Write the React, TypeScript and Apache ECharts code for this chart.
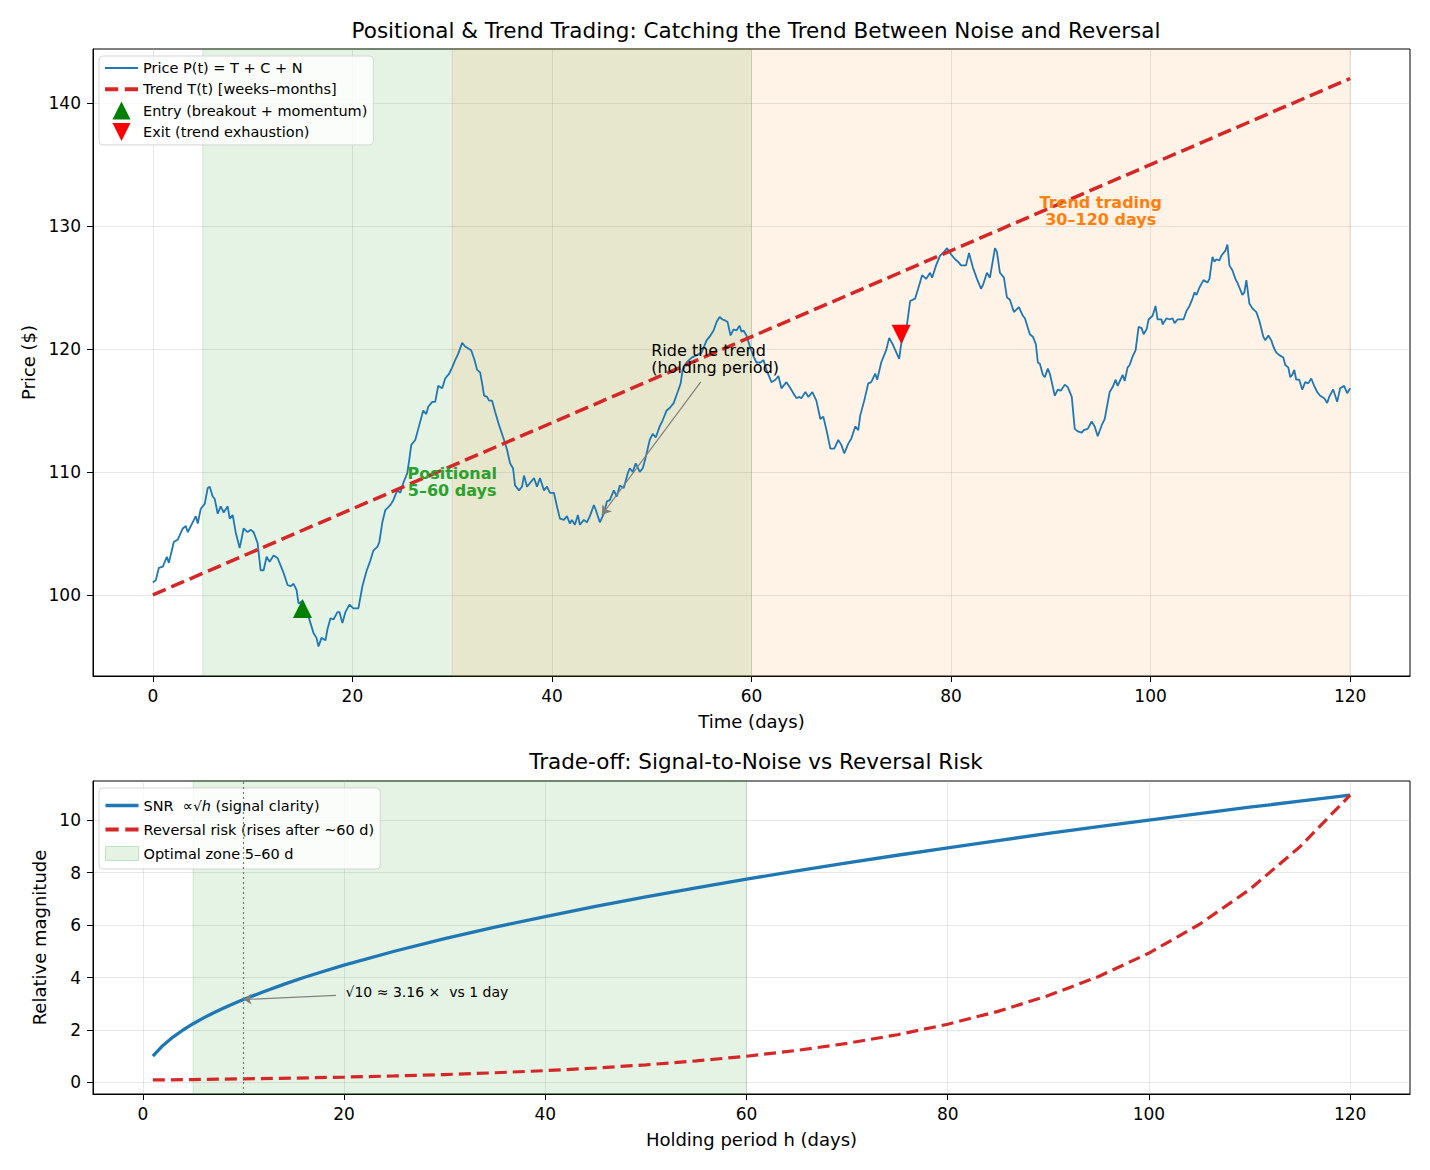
import React, { useEffect, useRef } from "react";
import * as echarts from "echarts";

// ---------- Top panel data ----------
const priceDays = [
  0.0, 0.3, 0.6, 1.0, 1.4, 1.6, 2.1, 2.5, 3.0, 3.3, 3.5, 4.3, 4.5, 4.8, 5.2, 5.5, 5.7, 6.0, 6.2, 6.5,
  6.8, 7.1, 7.5, 7.7, 8.0, 8.3, 8.7, 9.1, 9.5, 9.8, 10.1, 10.5, 10.8, 11.1, 11.4, 11.7, 12.1, 12.5, 12.8, 13.1,
  13.5, 13.8, 14.1, 14.4, 14.6, 15.0, 15.5, 15.8, 16.1, 16.4, 16.6, 16.9, 17.3, 17.5, 17.8, 18.1, 18.5, 18.7, 19.0, 19.3,
  19.7, 20.1, 20.6, 21.0, 21.4, 21.8, 22.1, 22.5, 22.7, 23.0, 23.3, 23.8, 24.1, 24.5, 24.8, 25.1, 25.5, 25.7, 25.9, 26.3,
  26.6, 27.1, 27.4, 27.6, 28.0, 28.3, 28.6, 29.0, 29.3, 29.7, 30.0, 30.3, 30.6, 31.0, 31.3, 31.7, 31.9, 32.2, 32.5, 32.8,
  33.0, 33.2, 33.5, 33.7, 34.0, 34.3, 34.7, 35.2, 35.5, 35.8, 36.1, 36.3, 36.7, 37.0, 37.2, 37.5, 37.8, 38.2, 38.5, 38.8,
  39.2, 39.5, 39.8, 40.2, 40.5, 40.8, 41.2, 41.5, 41.8, 42.0, 42.3, 42.6, 42.8, 43.2, 43.5, 43.8, 44.2, 44.4, 44.8, 45.2,
  45.5, 45.8, 46.2, 46.5, 46.8, 47.2, 47.6, 47.8, 48.1, 48.4, 48.8, 49.1, 49.4, 49.8, 50.1, 50.4, 50.8, 51.1, 51.5, 51.8,
  52.2, 52.6, 52.9, 53.1, 53.5, 54.0, 54.5, 55.0, 55.5, 55.8, 56.2, 56.5, 56.8, 57.1, 57.4, 57.6, 57.9, 58.2, 58.5, 58.8,
  59.0, 59.2, 59.5, 59.8, 60.2, 60.5, 60.9, 61.2, 61.5, 62.0, 62.4, 62.7, 63.0, 63.5, 63.9, 64.2, 64.5, 64.8, 65.0, 65.4,
  65.7, 66.1, 66.5, 66.9, 67.2, 67.6, 67.9, 68.3, 68.7, 69.0, 69.3, 69.7, 70.0, 70.4, 70.7, 70.9, 71.3, 71.7, 72.0, 72.4,
  72.6, 73.0, 73.5, 73.8, 74.2, 74.8, 75.0, 75.5, 75.9, 76.4, 76.7, 77.1, 77.5, 77.9, 78.1, 78.5, 78.9, 79.2, 79.6, 80.0,
  80.4, 80.7, 81.0, 81.5, 81.8, 82.2, 82.6, 83.0, 83.2, 83.6, 83.9, 84.4, 84.6, 84.9, 85.3, 85.6, 85.9, 86.3, 86.8, 87.2,
  87.4, 87.9, 88.2, 88.5, 88.7, 88.9, 89.2, 89.4, 89.7, 89.9, 90.4, 90.7, 91.0, 91.4, 91.7, 92.1, 92.4, 92.7, 93.1, 93.3,
  93.7, 94.1, 94.4, 94.7, 95.1, 95.4, 95.9, 96.2, 96.5, 96.7, 97.2, 97.4, 97.7, 97.9, 98.2, 98.5, 98.8, 99.1, 99.3, 99.6,
  99.8, 100.2, 100.5, 100.7, 101.1, 101.2, 101.6, 101.9, 102.2, 102.4, 102.7, 103.1, 103.3, 103.6, 103.9, 104.2, 104.4, 104.6, 104.9, 105.3,
  105.7, 105.9, 106.2, 106.4, 106.6, 106.9, 107.1, 107.5, 107.7, 107.9, 108.2, 108.5, 108.7, 108.9, 109.2, 109.4, 109.6, 109.9, 110.2, 110.6,
  110.9, 111.3, 111.5, 111.8, 112.1, 112.3, 112.6, 112.9, 113.3, 113.5, 113.8, 114.0, 114.2, 114.4, 114.6, 114.9, 115.2, 115.5, 115.8, 116.1,
  116.4, 116.7, 117.0, 117.4, 117.7, 117.9, 118.3, 118.7, 119.0, 119.4, 119.7, 120.0,
];
const priceValues = [
  101.0, 101.2, 102.2, 102.3, 103.1, 102.6, 104.3, 104.5, 105.4, 105.6, 105.1, 106.4, 105.8, 107.0, 107.4, 108.7, 108.8, 108.0, 107.8, 106.6,
  107.2, 106.7, 107.2, 106.2, 106.5, 105.1, 103.8, 105.4, 105.1, 105.3, 105.1, 104.2, 102.0, 102.0, 103.1, 102.7, 103.2, 103.0, 102.4, 101.8,
  100.8, 100.7, 100.9, 100.4, 99.3, 99.5, 98.5, 97.7, 96.9, 96.5, 95.8, 96.5, 96.3, 97.2, 98.1, 98.0, 98.6, 98.6, 97.7, 98.6,
  99.2, 98.9, 98.9, 100.7, 101.9, 102.8, 103.6, 103.9, 104.3, 105.9, 106.9, 107.3, 107.7, 108.5, 108.3, 109.1, 109.9, 111.0, 112.2, 112.6,
  113.5, 115.0, 114.7, 115.3, 115.7, 115.7, 117.0, 116.8, 117.6, 118.0, 118.5, 119.1, 119.6, 120.5, 120.2, 120.0, 119.9, 119.2, 118.3, 118.1,
  117.2, 116.2, 116.1, 115.8, 115.8, 114.9, 113.8, 112.6, 111.8, 110.7, 110.3, 108.9, 108.5, 108.8, 109.7, 108.8, 109.1, 109.5, 108.8, 109.5,
  108.5, 108.8, 108.3, 108.3, 107.2, 106.2, 106.1, 106.4, 105.8, 106.1, 105.7, 106.5, 105.7, 106.1, 105.9, 106.4, 107.3, 106.9, 105.9, 106.6,
  107.6, 107.7, 108.5, 108.0, 108.9, 108.7, 109.9, 110.3, 110.0, 110.7, 110.0, 110.3, 111.2, 112.6, 113.1, 112.8, 113.7, 114.2, 115.0, 115.2,
  115.6, 116.5, 117.2, 118.3, 118.9, 119.3, 119.5, 119.7, 120.7, 121.0, 121.5, 122.2, 122.6, 122.4, 122.3, 122.2, 121.1, 121.6, 121.5, 121.9,
  121.4, 121.5, 121.1, 120.3, 119.4, 118.9, 118.9, 119.1, 118.3, 117.3, 117.5, 117.8, 116.8, 117.3, 116.8, 116.4, 116.0, 116.1, 116.0, 116.5,
  116.1, 116.5, 115.8, 114.3, 114.5, 113.1, 111.9, 111.9, 112.6, 112.2, 111.5, 112.3, 112.7, 113.7, 113.4, 114.6, 115.8, 117.2, 117.3, 118.0,
  117.5, 118.9, 119.9, 120.9, 120.3, 119.2, 120.4, 121.5, 123.9, 124.1, 124.9, 126.0, 125.7, 126.2, 125.8, 126.8, 127.6, 127.8, 128.2, 127.7,
  127.3, 127.1, 126.8, 126.8, 127.8, 126.6, 125.7, 124.9, 125.2, 126.2, 125.8, 128.2, 127.9, 126.2, 125.8, 124.2, 124.0, 123.0, 123.4, 122.7,
  122.5, 121.2, 121.0, 120.4, 118.9, 118.8, 117.9, 117.7, 118.4, 118.0, 116.2, 116.7, 116.6, 117.1, 116.9, 116.1, 113.5, 113.3, 113.2, 113.4,
  113.5, 114.1, 113.7, 112.9, 113.8, 114.3, 116.5, 116.9, 117.5, 117.0, 117.9, 117.4, 118.5, 118.7, 119.4, 119.9, 121.8, 121.7, 121.2, 121.6,
  122.4, 122.7, 123.5, 122.4, 122.4, 122.0, 122.5, 122.4, 122.5, 122.1, 122.4, 122.4, 122.4, 123.1, 123.5, 124.1, 124.6, 124.4, 125.0, 125.6,
  125.4, 125.7, 127.5, 127.1, 127.3, 127.2, 127.6, 128.0, 128.5, 126.8, 126.4, 125.7, 125.4, 125.0, 124.4, 124.6, 125.6, 123.7, 123.3, 123.0,
  122.3, 121.0, 120.7, 121.1, 120.7, 120.2, 119.7, 119.5, 119.3, 118.7, 118.5, 117.7, 117.9, 118.3, 117.5, 117.5, 116.7, 117.3, 117.2, 117.6,
  117.0, 116.5, 116.2, 116.0, 115.6, 116.1, 116.7, 115.7, 116.8, 117.0, 116.4, 116.8,
];
const trendDays = [0, 120];
const trendValues = [100, 142];
const entryDay = 15;
const entryValue = 98.9;
const exitDay = 75;
const exitValue = 121.2;

const topXTicks = [0, 20, 40, 60, 80, 100, 120];
const topYTicks = [100, 110, 120, 130, 140];

// ---------- Bottom panel data ----------
const snrH = [1, 2, 3, 4, 5, 6, 7, 8, 9, 10, 12, 14, 16, 18, 20, 25, 30, 35, 40, 45, 50, 55, 60, 65, 70, 75, 80, 85, 90, 95, 100, 105, 110, 115, 120];
const snrValues = [
  1.0, 1.41, 1.73, 2.0, 2.24, 2.45, 2.65, 2.83, 3.0, 3.16, 3.46, 3.74, 4.0, 4.24, 4.47, 5.0, 5.48, 5.92, 6.32, 6.71,
  7.07, 7.42, 7.75, 8.06, 8.37, 8.66, 8.94, 9.22, 9.49, 9.75, 10.0, 10.25, 10.49, 10.72, 10.95,
];
const riskH = [1, 5, 10, 15, 20, 25, 30, 35, 40, 45, 50, 55, 60, 65, 70, 75, 80, 85, 90, 95, 100, 105, 110, 115, 120];
const riskValues = [
  0.095, 0.111, 0.136, 0.166, 0.203, 0.248, 0.302, 0.369, 0.45, 0.55, 0.671, 0.82, 1.0, 1.22, 1.49, 1.82, 2.22, 2.71,
  3.31, 4.04, 4.93, 6.02, 7.35, 8.98, 10.95,
];

const bottomXTicks = [0, 20, 40, 60, 80, 100, 120];
const bottomYTicks = [0, 2, 4, 6, 8, 10];

const FONT = "DejaVu Sans";
const BLUE = "#1f77b4";
const RED = "#d62728";
const GREEN_BAND = "rgba(44,160,44,0.12)";
const ORANGE_BAND = "rgba(255,127,14,0.10)";

const NAME_PRICE = "Price P(t) = T + C + N";
const NAME_TREND = "Trend T(t) [weeks–months]";
const NAME_ENTRY = "Entry (breakout + momentum)";
const NAME_EXIT = "Exit (trend exhaustion)";
const NAME_SNR = "SNR";
const NAME_RISK = "Reversal risk (rises after ~60 d)";
const NAME_ZONE = "Optimal zone 5–60 d";

const ICON_SOLID_THIN = "path://M0,0h30v2h-30z";
const ICON_SOLID_THICK = "path://M0,0h30v3h-30z";
const ICON_DASH = "path://M0,0h12v3.6h-12zM18,0h12v3.6h-12z";
const ICON_UP = "path://M5,0L10,10L0,10Z";
const ICON_DOWN = "path://M0,0L10,0L5,10Z";

function axis(gridIndex: number, min: number, max: number, ticks: number[], name: string, nameGap: number, isY: boolean) {
  return {
    type: "value",
    gridIndex,
    min,
    max,
    name,
    nameLocation: "middle",
    nameGap,
    nameTextStyle: { fontFamily: FONT, fontSize: 18, color: "#000" },
    axisLine: { show: true, onZero: false, lineStyle: { color: "#000", width: 1 } },
    axisTick: { show: true, customValues: ticks, length: 6, lineStyle: { color: "#000", width: 1 } },
    axisLabel: {
      show: true,
      customValues: ticks,
      fontFamily: FONT,
      fontSize: 17,
      color: "#000",
      margin: isY ? 12 : 11,
    },
    splitLine: { show: true, lineStyle: { color: "rgba(176,176,176,0.3)", width: 1 } },
  };
}

export default function App() {
  const ref = useRef<HTMLDivElement>(null);

  useEffect(() => {
    const chart = echarts.init(ref.current!, null, { renderer: "svg" });

    const priceData = priceDays.map((d, i) => [d, priceValues[i]]);
    const trendData = trendDays.map((d, i) => [d, trendValues[i]]);
    const snrData = snrH.map((h, i) => [h, snrValues[i]]);
    const riskData = riskH.map((h, i) => [h, riskValues[i]]);

    const textSeries = (
      name: string,
      xi: number,
      point: number[],
      text: string,
      position: string,
      style: any
    ) => ({
      type: "scatter",
      name,
      xAxisIndex: xi,
      yAxisIndex: xi,
      data: [point],
      symbolSize: 1,
      itemStyle: { color: "rgba(0,0,0,0)", opacity: 1 },
      silent: true,
      z: 20,
      label: {
        show: true,
        position,
        distance: 0,
        formatter: text,
        fontFamily: FONT,
        opacity: 1,
        ...style,
      },
    });

    const option: any = {
      animation: false,
      backgroundColor: "#fff",
      textStyle: { fontFamily: FONT },
      title: [
        {
          text: "Positional & Trend Trading: Catching the Trend Between Noise and Reversal",
          left: 751,
          top: 14,
          textAlign: "center",
          textStyle: { fontFamily: FONT, fontSize: 21.5, fontWeight: "normal", color: "#000" },
        },
        {
          text: "Trade-off: Signal-to-Noise vs Reversal Risk",
          left: 751,
          top: 745,
          textAlign: "center",
          textStyle: { fontFamily: FONT, fontSize: 21.5, fontWeight: "normal", color: "#000" },
        },
      ],
      grid: [
        { left: 93, right: 20, top: 49, height: 627, show: true, borderColor: "#000", borderWidth: 1, backgroundColor: "transparent" },
        { left: 93, right: 20, top: 781, height: 313, show: true, borderColor: "#000", borderWidth: 1, backgroundColor: "transparent" },
      ],
      xAxis: [
        axis(0, -6, 126, topXTicks, "Time (days)", 36, false),
        axis(1, -4.95, 125.95, bottomXTicks, "Holding period h (days)", 36, false),
      ],
      yAxis: [
        axis(0, 93.4, 144.4, topYTicks, "Price ($)", 55, true),
        axis(1, -0.44, 11.49, bottomYTicks, "Relative magnitude", 43, true),
      ],
      legend: [
        {
          left: 99,
          top: 56,
          orient: "vertical",
          padding: [3, 6, 4, 6],
          itemGap: 3.3,
          itemWidth: 33,
          itemHeight: 18,
          backgroundColor: "rgba(255,255,255,0.8)",
          borderColor: "#d5d5d5",
          borderWidth: 1,
          borderRadius: 4,
          textStyle: { fontFamily: FONT, fontSize: 14.5, lineHeight: 18, color: "#000" },
          data: [
            { name: NAME_PRICE, icon: ICON_SOLID_THIN },
            { name: NAME_TREND, icon: ICON_DASH },
            { name: NAME_ENTRY, icon: ICON_UP },
            { name: NAME_EXIT, icon: ICON_DOWN },
          ],
        },
        {
          left: 99,
          top: 788,
          orient: "vertical",
          padding: [10, 6, 8, 6],
          itemGap: 9,
          itemWidth: 33,
          itemHeight: 14,
          backgroundColor: "rgba(255,255,255,0.8)",
          borderColor: "#d5d5d5",
          borderWidth: 1,
          borderRadius: 4,
          textStyle: {
            fontFamily: FONT,
            fontSize: 14.5,
            color: "#000",
            rich: {
              n: { fontFamily: FONT, fontSize: 14.5, color: "#000" },
              s: { fontFamily: FONT, fontSize: 13.5, color: "#000" },
              h: { fontFamily: FONT, fontSize: 14.5, fontStyle: "italic", color: "#000" },
            },
          },
          formatter: (name: string) =>
            name === NAME_SNR ? "{n|SNR  ∝}{s|√}{h|h}{n| (signal clarity)}" : name,
          data: [
            { name: NAME_SNR, icon: ICON_SOLID_THICK },
            { name: NAME_RISK, icon: ICON_DASH },
            {
              name: NAME_ZONE,
              icon: "rect",
              itemStyle: { color: GREEN_BAND, borderColor: "rgba(44,160,44,0.25)", borderWidth: 1 },
            },
          ],
        },
      ],
      series: [
        {
          type: "line",
          name: NAME_PRICE,
          xAxisIndex: 0,
          yAxisIndex: 0,
          data: priceData,
          showSymbol: false,
          symbol: "none",
          color: BLUE,
          lineStyle: { color: BLUE, width: 1.8 },
          z: 3,
          markArea: {
            silent: true,
            data: [
              [
                { xAxis: 5, itemStyle: { color: GREEN_BAND, borderColor: "rgba(44,160,44,0.18)", borderWidth: 1 } },
                { xAxis: 60 },
              ],
              [
                { xAxis: 30, itemStyle: { color: ORANGE_BAND, borderColor: "rgba(200,120,40,0.18)", borderWidth: 1 } },
                { xAxis: 120 },
              ],
            ],
          },
          markLine: {
            silent: true,
            symbol: ["none", "arrow"],
            symbolSize: 9,
            label: { show: false },
            lineStyle: { color: "#808080", width: 1.2, type: "solid" },
            data: [[{ coord: [54.9, 117.3] }, { coord: [45, 106.5] }]],
          },
        },
        {
          type: "line",
          name: NAME_TREND,
          xAxisIndex: 0,
          yAxisIndex: 0,
          data: trendData,
          showSymbol: false,
          symbol: "none",
          color: RED,
          lineStyle: { color: RED, width: 3.5, type: [14, 6] },
          z: 4,
        },
        {
          type: "scatter",
          name: NAME_ENTRY,
          xAxisIndex: 0,
          yAxisIndex: 0,
          data: [[entryDay, entryValue]],
          symbol: ICON_UP,
          symbolSize: 19,
          color: "#008000",
          itemStyle: { color: "#008000", opacity: 1 },
          z: 6,
        },
        {
          type: "scatter",
          name: NAME_EXIT,
          xAxisIndex: 0,
          yAxisIndex: 0,
          data: [[exitDay, exitValue]],
          symbol: ICON_DOWN,
          symbolSize: 19,
          color: "#ff0000",
          itemStyle: { color: "#ff0000", opacity: 1 },
          z: 6,
        },
        textSeries("lblPositional", 0, [30, 109.2], "Positional\n5–60 days", "inside", {
          fontSize: 16,
          fontWeight: "bold",
          color: "#2ca02c",
          lineHeight: 17,
          align: "center",
        }),
        textSeries("lblTrendTrading", 0, [95, 131.2], "Trend trading\n30–120 days", "inside", {
          fontSize: 16,
          fontWeight: "bold",
          color: "#ff7f0e",
          lineHeight: 17,
          align: "center",
        }),
        textSeries("lblRide", 0, [49.9, 119.2], "Ride the trend\n(holding period)", "right", {
          fontSize: 16,
          color: "#000",
          lineHeight: 17,
        }),
        // ---------- bottom panel ----------
        {
          type: "line",
          name: NAME_SNR,
          xAxisIndex: 1,
          yAxisIndex: 1,
          data: snrData,
          showSymbol: false,
          symbol: "none",
          color: BLUE,
          lineStyle: { color: BLUE, width: 3.3, join: "round" },
          z: 4,
          markArea: {
            silent: true,
            data: [
              [
                { xAxis: 5, itemStyle: { color: GREEN_BAND, borderColor: "rgba(44,160,44,0.18)", borderWidth: 1 } },
                { xAxis: 60 },
              ],
            ],
          },
          markLine: {
            silent: true,
            symbol: ["none", "none"],
            label: { show: false },
            lineStyle: { color: "#6f7f6f", width: 1.2, type: [2, 3] },
            data: [{ xAxis: 10 }],
          },
        },
        {
          type: "line",
          name: NAME_RISK,
          xAxisIndex: 1,
          yAxisIndex: 1,
          data: riskData,
          showSymbol: false,
          symbol: "none",
          color: RED,
          lineStyle: { color: RED, width: 3.2, type: [12, 6] },
          z: 4,
          markLine: {
            silent: true,
            symbol: ["none", "arrow"],
            symbolSize: 8,
            label: { show: false },
            lineStyle: { color: "#808080", width: 1.2, type: "solid" },
            data: [[{ coord: [19.2, 3.32] }, { coord: [10, 3.16] }]],
          },
        },
        {
          type: "line",
          name: NAME_ZONE,
          xAxisIndex: 1,
          yAxisIndex: 1,
          data: [],
          color: GREEN_BAND,
        },
        textSeries("lblSqrt", 1, [20.1, 3.44], "√10 ≈ 3.16 ×  vs 1 day", "right", {
          fontSize: 14,
          color: "#000",
        }),
      ],
    };

    chart.setOption(option);
    return () => chart.dispose();
  }, []);

  return (
    <div
      ref={ref}
      style={{ position: "absolute", left: 0, top: 0, width: 1430, height: 1170, background: "#fff" }}
    />
  );
}
